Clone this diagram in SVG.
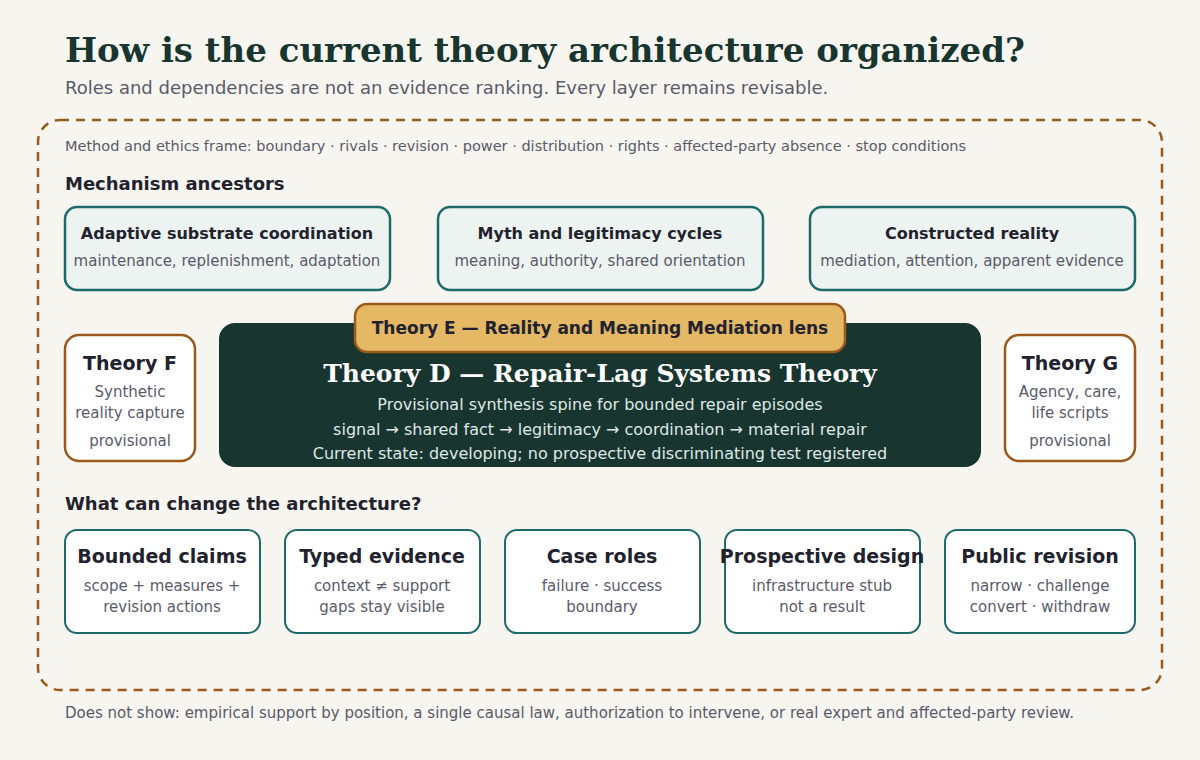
<svg xmlns="http://www.w3.org/2000/svg" width="1200" height="760" viewBox="0 0 1200 760">
<style>
text{font-family:"DejaVu Sans",sans-serif;fill:#22222e}
.t{font-size:15px;fill:#5a5a6a;text-anchor:middle}
.h{font-weight:bold;text-anchor:middle}
.anc{fill:#edf3f0;stroke:#1e6a6a;stroke-width:2.5}
.side{fill:#fff;stroke:#9a5a1a;stroke-width:2.5}
.bot{fill:#fff;stroke:#1e6a6a;stroke-width:2}
</style>
<rect width="1200" height="760" fill="#f7f5f0"/>
<text x="65" y="62" font-family="DejaVu Serif,serif" font-weight="bold" font-size="34" fill="#183530" style="font-family:'DejaVu Serif',serif;fill:#183530">How is the current theory architecture organized?</text>
<text x="65" y="94" font-size="18" style="fill:#5a5a6a">Roles and dependencies are not an evidence ranking. Every layer remains revisable.</text>
<rect x="38" y="120" width="1124" height="570" rx="22" fill="none" stroke="#9a5a1a" stroke-width="2.5" stroke-dasharray="9 7"/>
<text x="65" y="151" font-size="14.5" style="fill:#5a5a6a">Method and ethics frame: boundary · rivals · revision · power · distribution · rights · affected-party absence · stop conditions</text>
<text x="65" y="190" font-size="18" font-weight="bold">Mechanism ancestors</text>
<g id="n-adaptive"><rect class="anc" x="65" y="207" width="325" height="83" rx="12"/><text class="h" x="227" y="239" font-size="16">Adaptive substrate coordination</text><text class="t" x="227" y="266">maintenance, replenishment, adaptation</text></g>
<g id="n-myth"><rect class="anc" x="438" y="207" width="325" height="83" rx="12"/><text class="h" x="600" y="239" font-size="16">Myth and legitimacy cycles</text><text class="t" x="600" y="266">meaning, authority, shared orientation</text></g>
<g id="n-constructed"><rect class="anc" x="810" y="207" width="325" height="83" rx="12"/><text class="h" x="972" y="239" font-size="16">Constructed reality</text><text class="t" x="972" y="266">mediation, attention, apparent evidence</text></g>
<g id="n-f"><rect class="side" x="65" y="335" width="130" height="126" rx="14"/><text class="h" x="130" y="370" font-size="19">Theory F</text><text class="t" x="130" y="397">Synthetic</text><text class="t" x="130" y="418">reality capture</text><text class="t" x="130" y="446">provisional</text></g>
<g id="n-g"><rect class="side" x="1005" y="335" width="130" height="126" rx="14"/><text class="h" x="1070" y="370" font-size="19">Theory G</text><text class="t" x="1070" y="397">Agency, care,</text><text class="t" x="1070" y="418">life scripts</text><text class="t" x="1070" y="446">provisional</text></g>
<g id="n-d"><rect x="219" y="323" width="762" height="144" rx="16" fill="#183530"/><text x="600" y="382" text-anchor="middle" font-size="25" font-weight="bold" style="font-family:'DejaVu Serif',serif;fill:#fff">Theory D — Repair-Lag Systems Theory</text><text class="t" x="600" y="410" font-size="16" style="fill:#dfe8e4;font-size:16px">Provisional synthesis spine for bounded repair episodes</text><text class="t" x="600" y="435" style="fill:#dfe8e4;font-size:16px">signal → shared fact → legitimacy → coordination → material repair</text><text class="t" x="600" y="459" style="fill:#dfe8e4;font-size:16px">Current state: developing; no prospective discriminating test registered</text></g>
<g id="n-e"><rect x="355" y="304" width="490" height="48" rx="12" fill="#e4b865" stroke="#9a5a1a" stroke-width="2.5"/><text class="h" x="600" y="334" font-size="17">Theory E — Reality and Meaning Mediation lens</text></g>
<text x="65" y="510" font-size="18" font-weight="bold">What can change the architecture?</text>
<g id="n-bounded"><rect class="bot" x="65" y="530" width="195" height="103" rx="12"/><text class="h" x="162" y="563" font-size="19">Bounded claims</text><text class="t" x="162" y="591">scope + measures +</text><text class="t" x="162" y="612">revision actions</text></g>
<g id="n-typed"><rect class="bot" x="285" y="530" width="195" height="103" rx="12"/><text class="h" x="382" y="563" font-size="19">Typed evidence</text><text class="t" x="382" y="591">context ≠ support</text><text class="t" x="382" y="612">gaps stay visible</text></g>
<g id="n-case"><rect class="bot" x="505" y="530" width="195" height="103" rx="12"/><text class="h" x="602" y="563" font-size="19">Case roles</text><text class="t" x="602" y="591">failure · success</text><text class="t" x="602" y="612">boundary</text></g>
<g id="n-prosp"><rect class="bot" x="725" y="530" width="195" height="103" rx="12"/><text class="h" x="822" y="563" font-size="19">Prospective design</text><text class="t" x="822" y="591">infrastructure stub</text><text class="t" x="822" y="612">not a result</text></g>
<g id="n-public"><rect class="bot" x="945" y="530" width="190" height="103" rx="12"/><text class="h" x="1040" y="563" font-size="19">Public revision</text><text class="t" x="1040" y="591">narrow · challenge</text><text class="t" x="1040" y="612">convert · withdraw</text></g>
<g id="connectors"/>
<text x="65" y="718" font-size="15" style="fill:#5a5a6a">Does not show: empirical support by position, a single causal law, authorization to intervene, or real expert and affected-party review.</text>
</svg>
